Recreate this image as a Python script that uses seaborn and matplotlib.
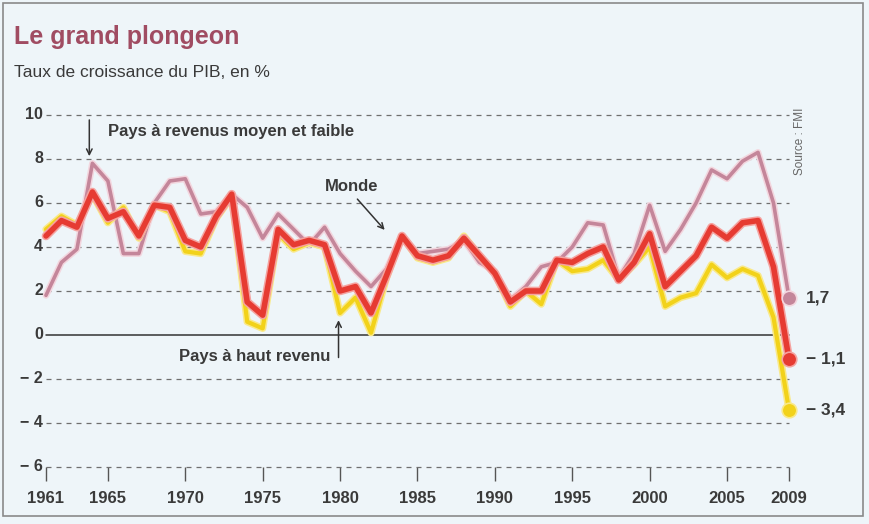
import pandas as pd
import numpy as np
import matplotlib
matplotlib.use('Agg')
import matplotlib.pyplot as plt
import matplotlib.patheffects as pe
import matplotlib.transforms as mtrans
from matplotlib.patches import Rectangle
import seaborn as sns

sns.set_style('white')
plt.rcParams['font.family'] = ['Liberation Sans', 'DejaVu Sans']

years = list(range(1961, 2010))

# Taux de croissance du PIB (%)
monde = [4.5, 5.2, 4.9, 6.5, 5.3, 5.6, 4.5, 5.9, 5.8, 4.3,
         4.0, 5.4, 6.4, 1.5, 0.9, 4.8, 4.1, 4.3, 4.1, 2.0,
         2.2, 1.0, 2.7, 4.5, 3.6, 3.4, 3.6, 4.4, 3.6, 2.8,
         1.5, 2.0, 2.0, 3.4, 3.3, 3.7, 4.0, 2.5, 3.3, 4.6,
         2.2, 2.9, 3.6, 4.9, 4.4, 5.1, 5.2, 3.1, -1.1]
haut_revenu = [4.8, 5.4, 5.0, 6.4, 5.1, 5.8, 4.4, 5.9, 5.6, 3.8,
               3.7, 5.3, 6.3, 0.6, 0.3, 4.6, 3.9, 4.2, 4.0, 1.0,
               1.7, 0.1, 2.6, 4.5, 3.5, 3.3, 3.5, 4.5, 3.6, 2.8,
               1.3, 2.0, 1.4, 3.4, 2.9, 3.0, 3.4, 2.5, 3.2, 4.0,
               1.3, 1.7, 1.9, 3.2, 2.6, 3.0, 2.7, 0.8, -3.4]
moyen_faible = [1.8, 3.3, 3.9, 7.8, 7.0, 3.7, 3.7, 6.0, 7.0, 7.1,
                5.5, 5.6, 6.4, 5.8, 4.4, 5.5, 4.8, 4.1, 4.9, 3.7,
                2.9, 2.2, 3.0, 4.5, 3.7, 3.8, 3.9, 4.3, 3.3, 2.9,
                1.6, 2.2, 3.1, 3.3, 4.0, 5.1, 5.0, 2.6, 3.7, 5.9,
                3.8, 4.8, 6.0, 7.5, 7.1, 7.9, 8.3, 6.0, 1.7]

end_labels = ['1,7', '− 1,1', '− 3,4']
y_ticks = [10, 8, 6, 4, 2, 0, -2, -4, -6]
y_ticklabels = ['10', '8', '6', '4', '2', '0', '− 2', '− 4', '− 6']
x_ticks = [1961, 1965, 1970, 1975, 1980, 1985, 1990, 1995, 2000, 2005, 2009]

df = pd.DataFrame({
    'annee': years * 3,
    'pib': moyen_faible + haut_revenu + monde,
    'groupe': (['moyen_faible'] * len(years) + ['haut_revenu'] * len(years)
               + ['monde'] * len(years)),
})

BG = '#eef5f9'
TXT = '#3a3a3a'
colors = {'moyen_faible': '#c4869a', 'haut_revenu': '#f2d21a', 'monde': '#e63b32'}
halos = {'moyen_faible': '#f3d6de', 'haut_revenu': '#f9e98a', 'monde': '#f5a3a0'}
widths = {'moyen_faible': 2.6, 'haut_revenu': 3.0, 'monde': 4.0}

fig = plt.figure(figsize=(8.69, 5.24), dpi=100, facecolor=BG)
fig.patches.append(Rectangle((0.003, 0.015), 0.990, 0.980, transform=fig.transFigure,
                             fill=False, edgecolor='#8a8a8a', linewidth=1.2))
ax = fig.add_axes([0.0529, 0.1088, 0.855, 0.6718])
ax.set_facecolor(BG)

# grille pointillée + ligne zéro
for v in y_ticks:
    if v == 0:
        ax.axhline(0, color='#333333', linewidth=1.1, zorder=1, clip_on=False)
    else:
        ax.axhline(v, color='#6f6f6f', linewidth=0.9, linestyle=(0, (4, 4)),
                   zorder=1, clip_on=False)

for z, grp in enumerate(['moyen_faible', 'haut_revenu', 'monde']):
    sub = df[df['groupe'] == grp]
    sns.lineplot(data=sub, x='annee', y='pib', ax=ax, color=colors[grp],
                 linewidth=widths[grp], zorder=3 + z, legend=False, clip_on=False,
                 path_effects=[pe.Stroke(linewidth=widths[grp] + 2.2, foreground=halos[grp]),
                               pe.Normal()])
    last = sub.iloc[-1]
    ax.scatter([last['annee']], [last['pib']], s=110, color=colors[grp],
               edgecolor=halos[grp], linewidth=1.2, zorder=6 + z, clip_on=False)

# valeurs finales 2009
for val, lab in zip([moyen_faible[-1], monde[-1], haut_revenu[-1]], end_labels):
    ax.annotate(lab, xy=(years[-1], val), xytext=(12, 0), textcoords='offset points',
                va='center', ha='left', fontsize=12.5, fontweight='bold', color=TXT)

ax.set_xlim(1961, 2009)
ax.set_ylim(-6, 10)
ax.set_yticks(y_ticks)
ax.set_yticklabels(y_ticklabels, fontsize=11.5, color=TXT, fontweight='bold', va='center')
up = mtrans.ScaledTranslation(0, 3 / 100, fig.dpi_scale_trans)
for lab in ax.get_yticklabels():
    lab.set_transform(lab.get_transform() + up)
ax.set_xticks(x_ticks)
ax.set_xticklabels([str(x) for x in x_ticks], fontsize=12, color=TXT, fontweight='bold')
ax.tick_params(axis='y', left=False, length=0, pad=2)
ax.tick_params(axis='x', bottom=True, length=10, width=1.0, color='#555555', pad=7,
               direction='out')
ax.set_xlabel('')
ax.set_ylabel('')
for s in ax.spines.values():
    s.set_visible(False)

# annotations
ax.annotate('', xy=(1963.8, 8.0), xytext=(1963.8, 9.9),
            arrowprops=dict(arrowstyle='->', color='#333333', lw=1.1))
ax.text(1965.0, 9.25, 'Pays à revenus moyen et faible', fontsize=12,
        color=TXT, fontweight='bold', va='center', ha='left')
ax.annotate('', xy=(1983.0, 4.68), xytext=(1981.0, 6.27),
            arrowprops=dict(arrowstyle='->', color='#333333', lw=1.1))
ax.text(1979.0, 6.73, 'Monde', fontsize=12, color=TXT, fontweight='bold',
        va='center', ha='left')
ax.annotate('', xy=(1979.9, 0.8), xytext=(1979.9, -1.15),
            arrowprops=dict(arrowstyle='->', color='#333333', lw=1.1))
ax.text(1979.4, -1.0, 'Pays à haut revenu', fontsize=12, color=TXT,
        fontweight='bold', va='center', ha='right')

fig.text(0.016, 0.93, 'Le grand plongeon', fontsize=18, fontweight='bold',
         color='#a04c62', va='center', ha='left')
fig.text(0.016, 0.862, 'Taux de croissance du PIB, en %', fontsize=12.5,
         color=TXT, va='center', ha='left')
fig.text(0.921, 0.73, 'Source : FMI', fontsize=8.5, color='#666666',
         rotation=90, va='center', ha='center')

plt.savefig('out.png', dpi=100, facecolor=BG)
plt.close()
